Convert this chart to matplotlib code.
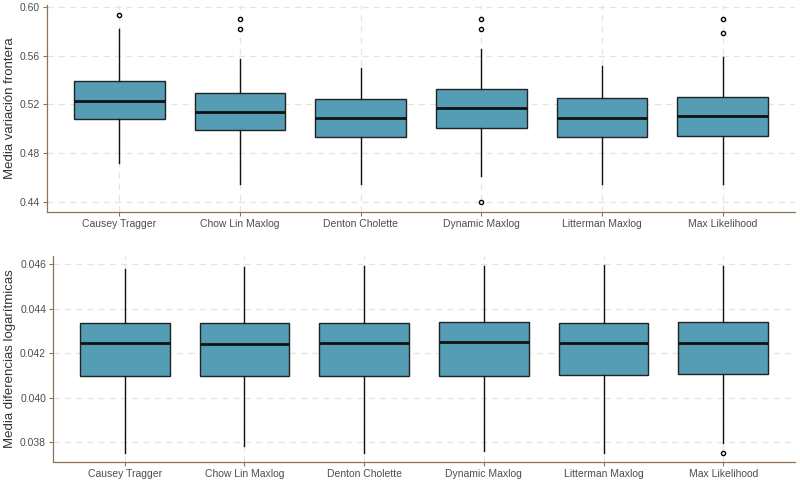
import matplotlib
matplotlib.use("Agg")
import matplotlib.pyplot as plt
import numpy as np

plt.rcParams["font.family"] = ["Liberation Sans", "DejaVu Sans"]

methods = ["Causey Tragger", "Chow Lin Maxlog", "Denton Cholette",
           "Dynamic Maxlog", "Litterman Maxlog", "Max Likelihood"]

# panel 1: media variacion frontera
front_whislo = [0.4720, 0.4549, 0.4546, 0.4617, 0.4546, 0.4549]
front_q1 = [0.5079, 0.4994, 0.4931, 0.5005, 0.4931, 0.4937]
front_med = [0.5232, 0.5141, 0.5087, 0.5174, 0.5087, 0.5106]
front_q3 = [0.5396, 0.5295, 0.5248, 0.5325, 0.5254, 0.5262]
front_whishi = [0.5817, 0.5571, 0.5502, 0.5653, 0.5514, 0.5587]
front_fliers = [[0.5934], [0.5902, 0.5822], [], [0.5902, 0.5822, 0.4399],
                [], [0.5902, 0.5787]]

# panel 2: media diferencias logaritmicas
logd_whislo = [0.03752, 0.03780, 0.03752, 0.03758, 0.03752, 0.03795]
logd_q1 = [0.04095, 0.04095, 0.04098, 0.04098, 0.04100, 0.04104]
logd_med = [0.04246, 0.04241, 0.04246, 0.04251, 0.04246, 0.04246]
logd_q3 = [0.04334, 0.04334, 0.04335, 0.04340, 0.04335, 0.04340]
logd_whishi = [0.04580, 0.04586, 0.04594, 0.04594, 0.04597, 0.04594]
logd_fliers = [[], [], [], [], [], [0.03750]]

fill = "#559db5"
grid_col = "#efe2d4"
spine_col = "#8c7358"
txt_col = "#4d4d4d"


def make_stats(lo, q1, med, q3, hi, fl):
    out = []
    for i in range(len(methods)):
        out.append({"whislo": lo[i], "q1": q1[i], "med": med[i], "q3": q3[i],
                    "whishi": hi[i], "fliers": fl[i]})
    return out


def draw(ax, stats, ylim, yticks, fmt, ylabel):
    ax.set_axisbelow(True)
    ax.grid(True, color=grid_col, linestyle=(0, (5, 4)), linewidth=0.9)
    ax.bxp(stats, positions=np.arange(1, 7), widths=0.75, patch_artist=True,
           showcaps=False,
           boxprops=dict(facecolor=fill, edgecolor="#222222", linewidth=1.0),
           medianprops=dict(color="#111111", linewidth=2.0),
           whiskerprops=dict(color="#111111", linewidth=1.0),
           flierprops=dict(marker="o", markersize=3.0, markerfacecolor="white",
                           markeredgecolor="black", markeredgewidth=1.0))
    ax.set_xlim(0.4, 6.6)
    ax.set_ylim(*ylim)
    ax.set_yticks(yticks)
    ax.set_yticklabels([fmt.format(v) for v in yticks])
    ax.set_xticks(np.arange(1, 7))
    ax.set_xticklabels(methods)
    for s in ["top", "right"]:
        ax.spines[s].set_visible(False)
    for s in ["left", "bottom"]:
        ax.spines[s].set_color(spine_col)
        ax.spines[s].set_linewidth(0.9)
    ax.tick_params(colors=spine_col, labelcolor=txt_col, labelsize=7.5,
                   length=3, width=0.8, pad=2)
    ax.set_ylabel(ylabel, color="#333333", fontsize=9.5, labelpad=3)


fig = plt.figure(figsize=(8, 5), dpi=100)
ax1 = fig.add_axes([47 / 800, 1 - 212 / 500, 748 / 800, 207 / 500])
ax2 = fig.add_axes([53 / 800, 1 - 462 / 500, 742 / 800, 206 / 500])

draw(ax1, make_stats(front_whislo, front_q1, front_med, front_q3,
                     front_whishi, front_fliers),
     (0.4318, 0.6015), [0.44, 0.48, 0.52, 0.56, 0.60], "{:.2f}",
     "Media variación frontera")
draw(ax2, make_stats(logd_whislo, logd_q1, logd_med, logd_q3,
                     logd_whishi, logd_fliers),
     (0.0371, 0.04637), [0.038, 0.040, 0.042, 0.044, 0.046], "{:.3f}",
     "Media diferencias logarítmicas")

fig.savefig("out.png", dpi=100)
